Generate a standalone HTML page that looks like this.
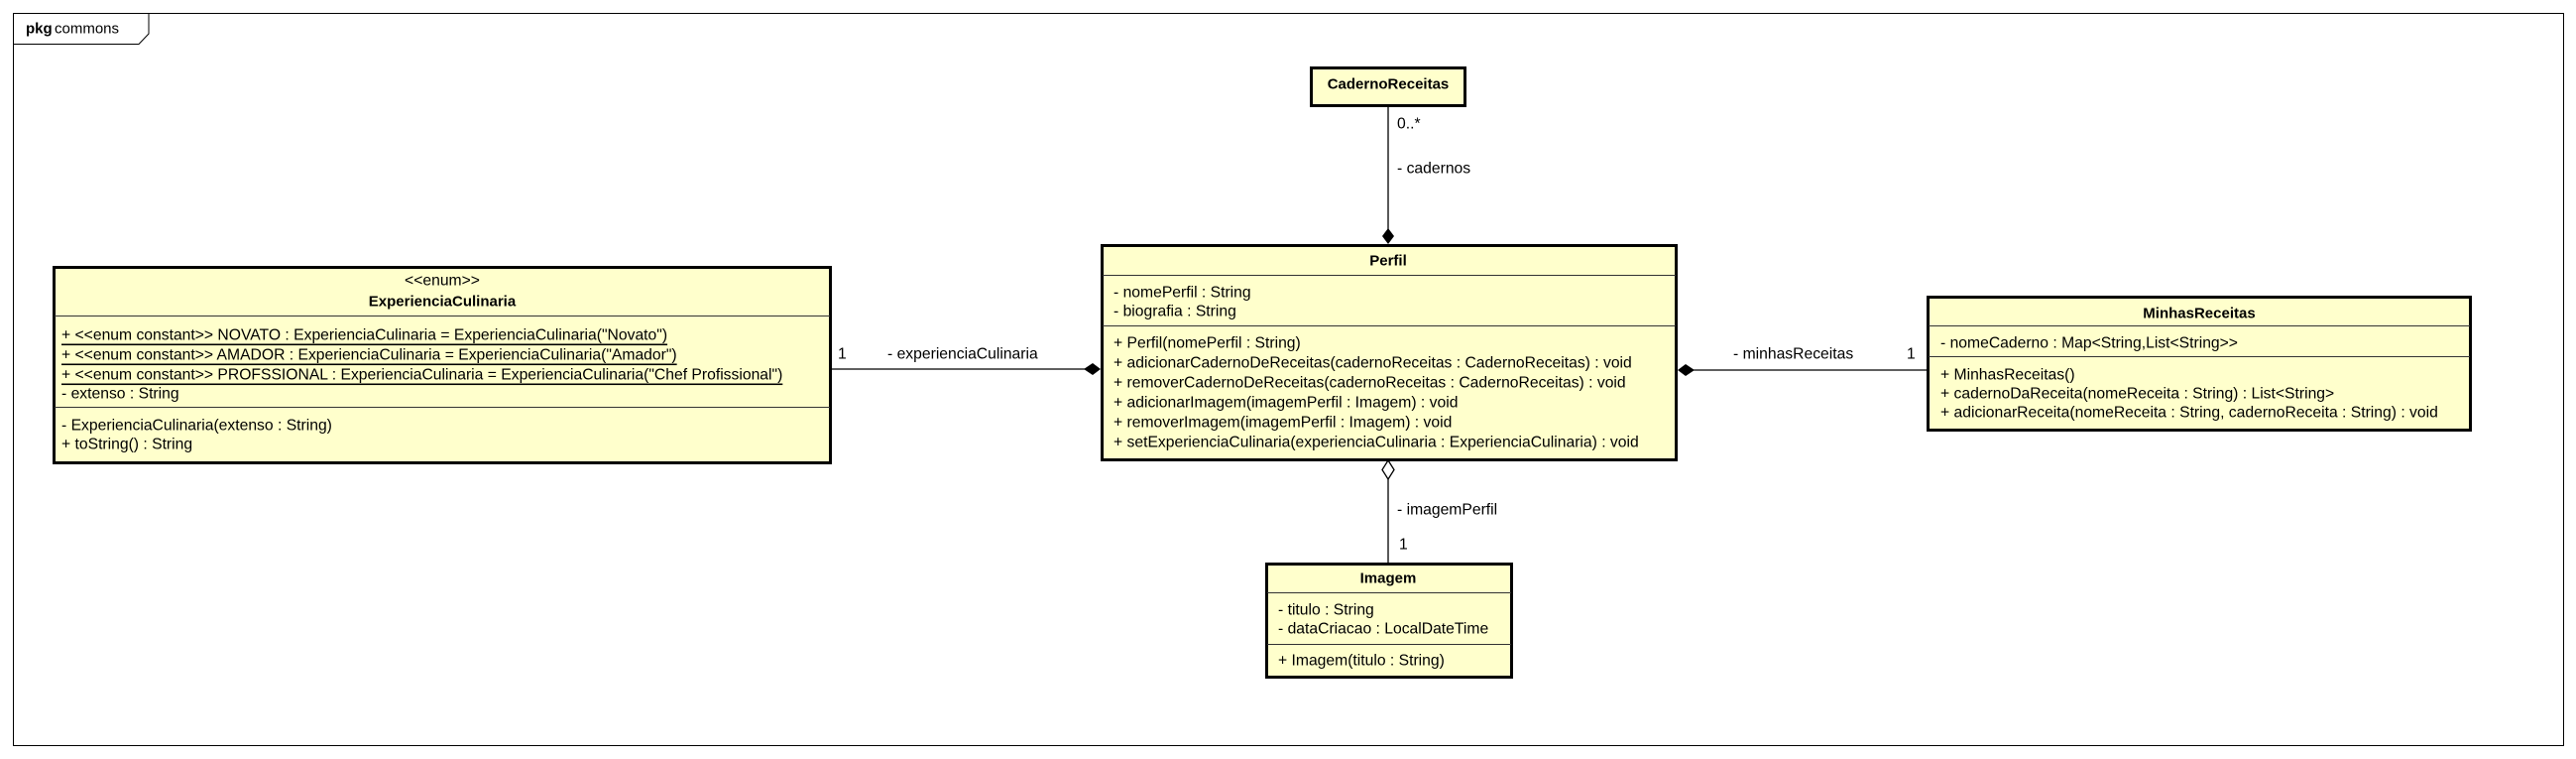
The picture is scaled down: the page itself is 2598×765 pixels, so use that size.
<!DOCTYPE html>
<html><head><meta charset="utf-8"><style>
html,body{margin:0;padding:0;background:#fff;}
svg{display:block;}
text{font-family:"Liberation Sans",Arial,sans-serif;font-size:15.7px;fill:#000;dominant-baseline:central;}
.b{font-weight:bold;font-size:15px;}
.u{text-decoration:underline;}
</style></head><body>
<svg width="2598" height="765" viewBox="0 0 2598 765" xmlns="http://www.w3.org/2000/svg">
<rect x="13.5" y="13.5" width="2572" height="738" fill="#fff" stroke="#000" stroke-width="1"/>
<path d="M13.5 44.5 H140 L150 34 V13.5" fill="none" stroke="#000" stroke-width="1"/>
<text x="26" y="29" class="b">pkg</text><text x="55" y="29" style="font-size:15px">commons</text>

<line x1="1400" y1="107" x2="1400" y2="232" stroke="#000" stroke-width="1.3"/>
<polygon points="1400,230 1406,238 1400,246 1394,238" fill="#000"/>
<text x="1409" y="125">0..*</text>
<text x="1409" y="170">- cadernos</text>

<line x1="1400" y1="483" x2="1400" y2="567" stroke="#000" stroke-width="1.3"/>
<polygon points="1400,464 1406,473.5 1400,483 1394,473.5" fill="#fff" stroke="#000" stroke-width="1.3"/>
<text x="1409" y="514">- imagemPerfil</text>
<text x="1411" y="549">1</text>

<line x1="838" y1="372" x2="1094" y2="372" stroke="#000" stroke-width="1.3"/>
<polygon points="1110,372 1102,378 1093,372 1102,366" fill="#000"/>
<text x="845" y="357">1</text>
<text x="895" y="357">- experienciaCulinaria</text>

<line x1="1708" y1="373" x2="1944" y2="373" stroke="#000" stroke-width="1.3"/>
<polygon points="1692,373 1700,367 1709,373 1700,379" fill="#000"/>
<text x="1748" y="357">- minhasReceitas</text>
<text x="1923" y="357">1</text>

<rect x="1322.5" y="68.5" width="155" height="38" fill="#FFFFCC" stroke="#000" stroke-width="3"/>
<text x="1400" y="85" class="b" text-anchor="middle">CadernoReceitas</text>

<rect x="1111.5" y="247.5" width="579" height="216" fill="#FFFFCC" stroke="#000" stroke-width="3"/>
<line x1="1112" y1="277.5" x2="1690" y2="277.5" stroke="#333" stroke-width="1"/>
<line x1="1112" y1="328.5" x2="1690" y2="328.5" stroke="#333" stroke-width="1"/>
<text x="1400" y="263" class="b" text-anchor="middle">Perfil</text>
<text x="1123" y="295">- nomePerfil : String</text>
<text x="1123" y="314">- biografia : String</text>
<text x="1123" y="346">+ Perfil(nomePerfil : String)</text>
<text x="1123" y="366">+ adicionarCadernoDeReceitas(cadernoReceitas : CadernoReceitas) : void</text>
<text x="1123" y="386">+ removerCadernoDeReceitas(cadernoReceitas : CadernoReceitas) : void</text>
<text x="1123" y="406">+ adicionarImagem(imagemPerfil : Imagem) : void</text>
<text x="1123" y="426">+ removerImagem(imagemPerfil : Imagem) : void</text>
<text x="1123" y="446">+ setExperienciaCulinaria(experienciaCulinaria : ExperienciaCulinaria) : void</text>

<rect x="1277.5" y="568.5" width="247" height="114" fill="#FFFFCC" stroke="#000" stroke-width="3"/>
<line x1="1278" y1="597.5" x2="1524" y2="597.5" stroke="#333" stroke-width="1"/>
<line x1="1278" y1="649.5" x2="1524" y2="649.5" stroke="#333" stroke-width="1"/>
<text x="1400" y="583" class="b" text-anchor="middle">Imagem</text>
<text x="1289" y="615">- titulo : String</text>
<text x="1289" y="634">- dataCriacao : LocalDateTime</text>
<text x="1289" y="666">+ Imagem(titulo : String)</text>

<rect x="54.5" y="269.5" width="783" height="197" fill="#FFFFCC" stroke="#000" stroke-width="3"/>
<line x1="55" y1="318.5" x2="837" y2="318.5" stroke="#333" stroke-width="1"/>
<line x1="55" y1="410.5" x2="837" y2="410.5" stroke="#333" stroke-width="1"/>
<text x="446" y="283" text-anchor="middle">&lt;&lt;enum&gt;&gt;</text>
<text x="446" y="304" class="b" text-anchor="middle">ExperienciaCulinaria</text>
<text x="62" y="338" class="u">+ &lt;&lt;enum constant&gt;&gt; NOVATO : ExperienciaCulinaria = ExperienciaCulinaria("Novato")</text>
<text x="62" y="358" class="u">+ &lt;&lt;enum constant&gt;&gt; AMADOR : ExperienciaCulinaria = ExperienciaCulinaria("Amador")</text>
<text x="62" y="378" class="u">+ &lt;&lt;enum constant&gt;&gt; PROFSSIONAL : ExperienciaCulinaria = ExperienciaCulinaria("Chef Profissional")</text>
<text x="62" y="397">- extenso : String</text>
<text x="62" y="429">- ExperienciaCulinaria(extenso : String)</text>
<text x="62" y="448">+ toString() : String</text>

<rect x="1944.5" y="299.5" width="547" height="134" fill="#FFFFCC" stroke="#000" stroke-width="3"/>
<line x1="1945" y1="328.5" x2="2491" y2="328.5" stroke="#333" stroke-width="1"/>
<line x1="1945" y1="359.5" x2="2491" y2="359.5" stroke="#333" stroke-width="1"/>
<text x="2218" y="316" class="b" text-anchor="middle">MinhasReceitas</text>
<text x="1957" y="346">- nomeCaderno : Map&lt;String,List&lt;String&gt;&gt;</text>
<text x="1957" y="378">+ MinhasReceitas()</text>
<text x="1957" y="397">+ cadernoDaReceita(nomeReceita : String) : List&lt;String&gt;</text>
<text x="1957" y="416">+ adicionarReceita(nomeReceita : String, cadernoReceita : String) : void</text>
</svg>
</body></html>
